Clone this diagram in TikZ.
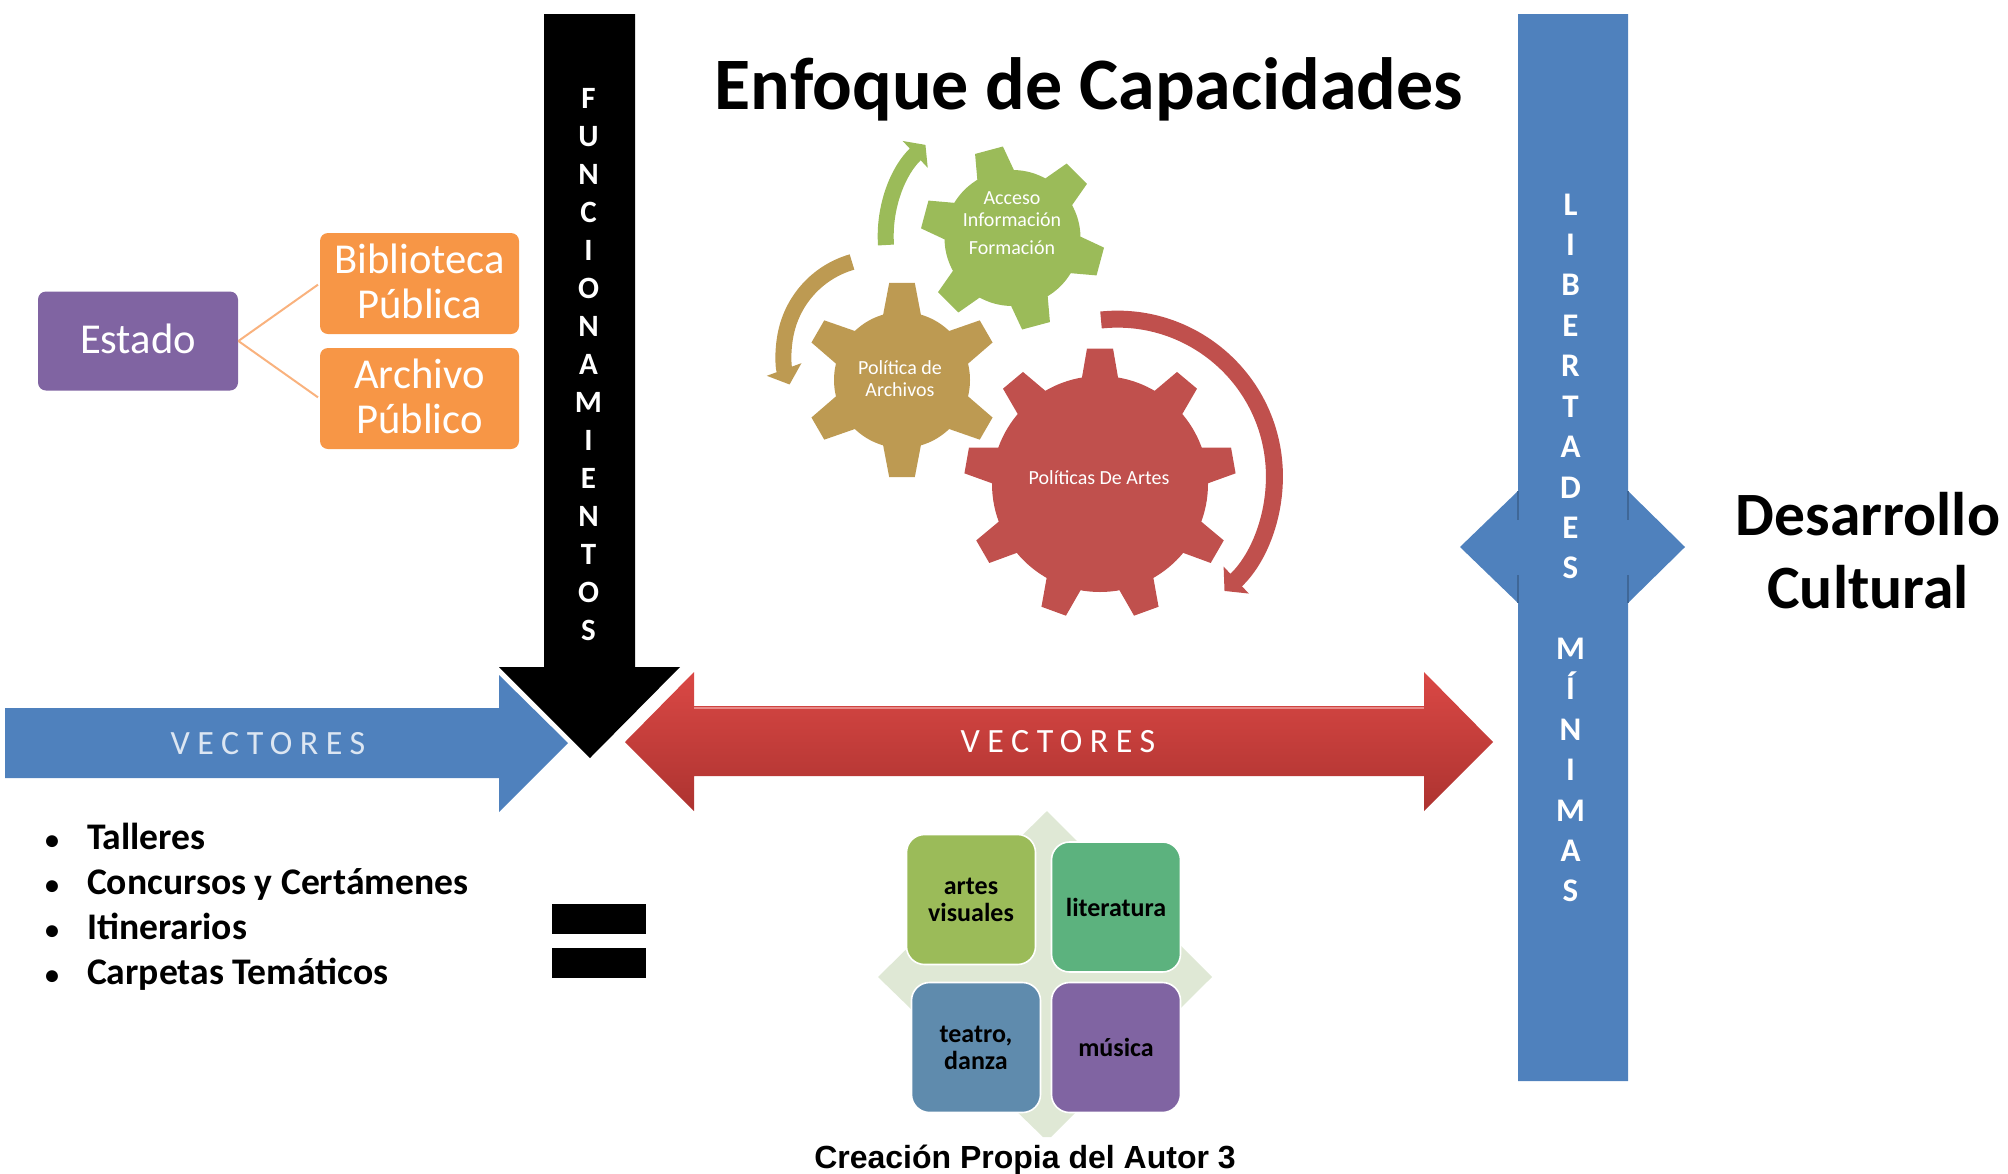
\documentclass[tikz,border=0pt]{standalone}
\usepackage{fontspec}
\setmainfont{Carlito}
\newfontfamily\capfont{Liberation Sans}
\newfontfamily\spacedfont[LetterSpace=22]{Carlito}
\usetikzlibrary{arrows.meta}

\definecolor{blueshape}{HTML}{4F81BD}
\definecolor{blueletter}{HTML}{DCE6F2}
\definecolor{redtop}{HTML}{DA4845}
\definecolor{redmid}{HTML}{C93F3C}
\definecolor{redlow}{HTML}{AD3330}
\definecolor{redlight}{HTML}{E88A88}
\definecolor{orangebox}{HTML}{F79646}
\definecolor{orangeline}{HTML}{F9B27E}
\definecolor{purplebox}{HTML}{8064A2}
\definecolor{gearleaf}{HTML}{9BBB59}
\definecolor{gearochre}{HTML}{BD9A52}
\definecolor{gearred}{HTML}{C0504D}
\definecolor{tilegreen}{HTML}{5CB27E}
\definecolor{tileblue}{HTML}{5F8BAD}
\definecolor{tileback}{HTML}{DFE8D5}

\begin{document}
\begin{tikzpicture}[x=0.5pt,y=-0.5pt]

\tikzset{box/.style = {shape=rectangle,rounded corners=4pt,text=white,align=center,text depth=2.5pt,font=\fontsize{21.3}{22.5}\selectfont}}
\tikzset{tile/.style = {shape=rectangle,rounded corners=9pt,draw=white,line width=0.8pt,minimum width=64.5pt,minimum height=65pt,align=center,text=black,font=\bfseries\fontsize{13}{13.5}\selectfont}}
\tikzset{gearlabel/.style = {text=white,align=center,font=\fontsize{10}{11}\selectfont}}
\tikzset{stack/.style = {text=white,align=center,font=\bfseries\fontsize{15.5}{19}\selectfont}}
\tikzset{vector/.style = {font=\spacedfont\fontsize{17}{20}\selectfont}}
\tikzset{heading/.style = {text=black,align=center,font=\bfseries\fontsize{37}{36.5}\selectfont}}
\useasboundingbox (0,0) rectangle (2008,1173);

%arrows
\fill[blueshape] (5,708) -- (499,708) -- (499,675) -- (568,743) -- (499,812) -- (499,778) -- (5,778) -- cycle;
\fill[black] (544,14) -- (635,14) -- (635,667) -- (680,667) -- (590,758) -- (499,667) -- (544,667) -- cycle;
\shade[top color=redtop,middle color=redmid,bottom color=redlow] (625,742) -- (694,672) -- (694,706) -- (1424,706) -- (1424,672) -- (1493,742) -- (1424,811) -- (1424,776) -- (694,776) -- (694,811) -- cycle;
\draw[redlight,line width=1pt] (694,708) -- (1424,708);
\fill[blueshape] (1518,14) -- (1628,14) -- (1628,491) -- (1685,547) -- (1628,603) -- (1628,1081) -- (1518,1081) -- (1518,603) -- (1460,547) -- (1518,491) -- cycle;
\draw[blueshape!80!black,line width=0.6pt] (1518,491) -- (1518,520) (1518,575) -- (1518,603) (1628,491) -- (1628,520) (1628,575) -- (1628,603);

\node[stack] (funcionamientos) at (588.5,365) {F\\U\\N\\C\\I\\O\\N\\A\\M\\I\\E\\N\\T\\O\\S};
\node[stack,font=\bfseries\fontsize{16.5}{20.2}\selectfont] (libertades) at (1570.5,548) {L\\I\\B\\E\\R\\T\\A\\D\\E\\S\\[20.2pt]M\\Í\\N\\I\\M\\A\\S};
\node[vector,text=blueletter] (vectorleft) at (268,744) {VECTORES};
\node[vector,text=white] (vectorright) at (1058,742) {VECTORES};

%headings
\node[heading] (title) at (1089,89) {Enfoque de Capacidades};
\node[heading,font=\bfseries\fontsize{30.8}{36.5}\selectfont] (desarrollo) at (1868,551) {Desarrollo\\Cultural};
\node[font=\capfont\bfseries\fontsize{16}{20}\selectfont] (caption) at (1025,1160) {Creación Propia del Autor 3};

%estado
\node[box,fill=purplebox,minimum width=100pt,minimum height=49.5pt] (estado) at (138,341) {Estado};
\node[box,fill=orangebox,minimum width=99.5pt,minimum height=50.5pt] (biblioteca) at (419.5,283.5) {Biblioteca\\Pública};
\node[box,fill=orangebox,minimum width=99.5pt,minimum height=50.5pt] (archivo) at (419.5,398.5) {Archivo\\Público};
\draw[orangeline,line width=1pt,shorten >=1pt] (estado.east) -- (biblioteca.west);
\draw[orangeline,line width=1pt,shorten >=1pt] (estado.east) -- (archivo.west);

\node[anchor=west,align=left,text=black,font=\bfseries\fontsize{18.8}{22.5}\selectfont] (talleres) at (80,907) {\llap{\fontsize{14}{14}\selectfont\textbullet\hspace{14pt}}Talleres\\\llap{\fontsize{14}{14}\selectfont\textbullet\hspace{14pt}}Concursos y Certámenes\\\llap{\fontsize{14}{14}\selectfont\textbullet\hspace{14pt}}Itinerarios\\\llap{\fontsize{14}{14}\selectfont\textbullet\hspace{14pt}}Carpetas Temáticos};

\fill[black] (552,904) rectangle (646,934);
\fill[black] (552,948) rectangle (646,978);

%gears
\foreach \gx/\gy/\rin/\rout/\first/\teeth/\gstep/\wide/\narrow/\gcol in {1012.5/238/68/92/-105/5/60/17/9/gearleaf, 902/380/68/98/-90/5/60/17/7.5/gearochre, 1100/484/108/136/-90/8/40/10/5.5/gearred} {
  \begin{scope}[shift={(\gx,\gy)}]
    \fill[\gcol] (0,0) circle (\rin);
    \foreach \k in {0,...,\teeth} {
      \pgfmathsetmacro{\a}{\first+\k*\gstep}
      \fill[\gcol] (\a-\wide:\rin-2) -- (\a-\narrow:\rout) -- (\a+\narrow:\rout) -- (\a+\wide:\rin-2) -- cycle;
    }
  \end{scope}
}
\draw[gearleaf,line width=8pt,-{Triangle[width=18pt,length=7pt]}] (886,245) arc[start angle=176,end angle=227,radius=125];
\draw[gearochre,line width=8pt,-{Triangle[width=18pt,length=8pt]}] (852,262) arc[start angle=254,end angle=160,radius=94];
\draw[gearred,line width=8.5pt,-{Triangle[width=18pt,length=8pt]}] (1101,320) arc[start angle=-96,end angle=47,radius=157];

\node[gearlabel] (acceso) at (1012,223) {Acceso\\Información\\[3pt]Formación};
\node[gearlabel] (archivos) at (900,379) {Política de\\Archivos};
\node[gearlabel] (artes) at (1099,478) {Políticas De Artes};

%mosaic
\fill[tileback] (1047,811) -- (1212,977) -- (1051,1137) -- (1043,1137) -- (878,977) -- cycle;
\node[tile,fill=gearleaf] (visuales) at (971,899.5) {artes\\visuales};
\node[tile,fill=tilegreen] (literatura) at (1116,907) {literatura};
\node[tile,fill=tileblue] (teatro) at (976,1047.5) {teatro,\\danza};
\node[tile,fill=purplebox] (musica) at (1116,1047.5) {música};

\end{tikzpicture}
\end{document}
